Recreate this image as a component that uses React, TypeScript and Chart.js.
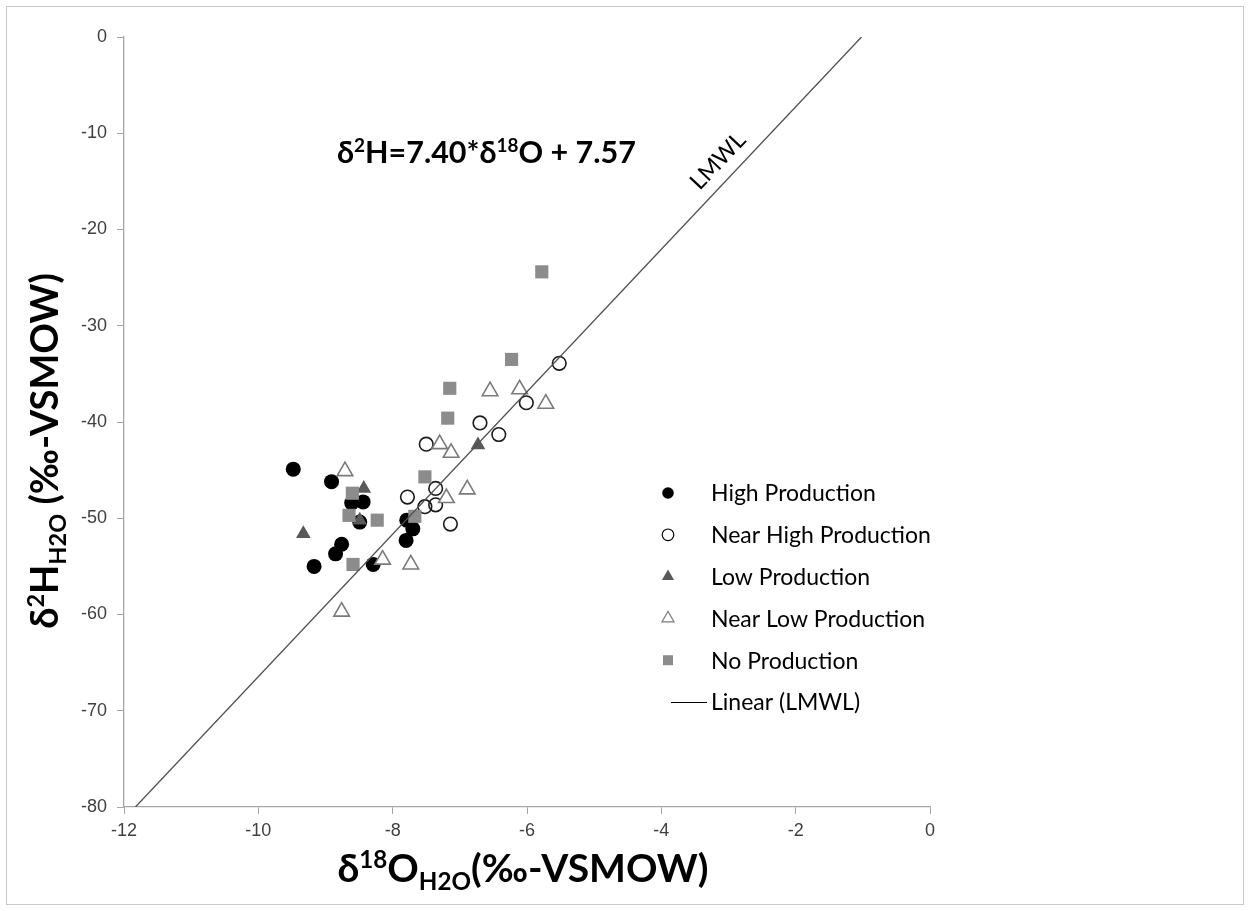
import React, { useEffect, useRef } from "react";
import { Chart, registerables } from "chart.js";

Chart.register(...registerables);

const HIGH_X = [-9.48, -8.91, -8.61, -8.44, -8.49, -8.76, -8.85, -9.17, -8.29, -7.79, -7.70, -7.80];
const HIGH_Y = [-44.9, -46.2, -48.4, -48.3, -50.4, -52.7, -53.7, -55.0, -54.8, -50.2, -51.1, -52.3];
const NEAR_HIGH_X = [-5.52, -6.01, -6.70, -6.42, -7.50, -7.36, -7.78, -7.52, -7.36, -7.14];
const NEAR_HIGH_Y = [-33.9, -38.0, -40.1, -41.3, -42.3, -46.9, -47.8, -48.8, -48.6, -50.6];
const LOW_X = [-9.33, -8.43, -8.49, -6.73];
const LOW_Y = [-51.6, -46.9, -50.2, -42.4];
const NEAR_LOW_X = [-8.71, -8.76, -7.30, -7.13, -6.89, -7.20, -8.15, -7.73, -6.55, -6.11, -5.72];
const NEAR_LOW_Y = [-45.1, -59.7, -42.3, -43.2, -47.0, -47.9, -54.3, -54.8, -36.8, -36.6, -38.1];
const NO_X = [-5.78, -6.23, -7.15, -7.18, -7.52, -7.67, -8.23, -8.60, -8.65, -8.59];
const NO_Y = [-24.4, -33.5, -36.5, -39.6, -45.7, -49.8, -50.2, -47.4, -49.7, -54.8];
const LMWL_X = [-11.83, -1.02];
const LMWL_Y = [-80, 0];

const X_MIN = -12, X_MAX = 0, X_STEP = 2;
const Y_MIN = -80, Y_MAX = 0, Y_STEP = 10;

const SERIES_NAMES = ["High Production", "Near High Production", "Low Production", "Near Low Production", "No Production", "Linear (LMWL)"];
const EQUATION = [
  { t: "δ", s: "n" }, { t: "2", s: "sup" }, { t: "H=7.40*δ", s: "n" }, { t: "18", s: "sup" }, { t: "O + 7.57", s: "n" },
];
const X_TITLE = [
  { t: "δ", s: "n" }, { t: "18", s: "sup" }, { t: "O", s: "n" }, { t: "H2O", s: "sub" }, { t: "(‰-VSMOW)", s: "n" },
];
const Y_TITLE = [
  { t: "δ", s: "n" }, { t: "2", s: "sup" }, { t: "H", s: "n" }, { t: "H2O", s: "sub" }, { t: " (‰-VSMOW)", s: "n" },
];

const pts = (xs: number[], ys: number[]) => xs.map((x, i) => ({ x, y: ys[i] }));

const FONT = "Lato, 'Open Sans', sans-serif";

function richWidth(ctx: CanvasRenderingContext2D, segs: any[], size: number, weight: string) {
  let w = 0;
  for (const sg of segs) {
    const fs = sg.s === "n" ? size : size * 0.62;
    ctx.font = `${weight} ${fs}px ${FONT}`;
    w += ctx.measureText(sg.t).width;
  }
  return w;
}

function drawRich(ctx: CanvasRenderingContext2D, segs: any[], x: number, y: number, size: number, weight: string, color: string) {
  ctx.fillStyle = color;
  ctx.textBaseline = "alphabetic";
  ctx.textAlign = "left";
  let cx = x;
  for (const sg of segs) {
    const fs = sg.s === "n" ? size : size * 0.62;
    ctx.font = `${weight} ${fs}px ${FONT}`;
    const dy = sg.s === "sup" ? -size * 0.36 : sg.s === "sub" ? size * 0.2 : 0;
    ctx.fillText(sg.t, cx, y + dy);
    cx += ctx.measureText(sg.t).width;
  }
}

function marker(ctx: CanvasRenderingContext2D, kind: string, x: number, y: number, r: number) {
  ctx.save();
  ctx.beginPath();
  if (kind === "circle" || kind === "ocircle") {
    ctx.arc(x, y, r, 0, Math.PI * 2);
  } else if (kind === "tri" || kind === "otri") {
    ctx.moveTo(x, y - r);
    ctx.lineTo(x + r * 0.866, y + r * 0.5);
    ctx.lineTo(x - r * 0.866, y + r * 0.5);
    ctx.closePath();
  } else if (kind === "rect") {
    ctx.rect(x - r, y - r, 2 * r, 2 * r);
  }
  if (kind === "circle") { ctx.fillStyle = "#000"; ctx.fill(); }
  if (kind === "ocircle") { ctx.fillStyle = "#fff"; ctx.fill(); ctx.strokeStyle = "#000"; ctx.lineWidth = 1.2; ctx.stroke(); }
  if (kind === "tri") { ctx.fillStyle = "#595959"; ctx.fill(); }
  if (kind === "otri") { ctx.fillStyle = "#fff"; ctx.fill(); ctx.strokeStyle = "#7f7f7f"; ctx.lineWidth = 1.2; ctx.stroke(); }
  if (kind === "rect") { ctx.fillStyle = "#8c8c8c"; ctx.fill(); }
  ctx.restore();
}

const decor = {
  id: "decor",
  afterDraw(chart: any) {
    const ctx: CanvasRenderingContext2D = chart.ctx;
    const xs = chart.scales.x, ys = chart.scales.y;
    ctx.save();
    // frame
    ctx.strokeStyle = "#c8c8c8";
    ctx.lineWidth = 1;
    ctx.strokeRect(6.5, 6.5, chart.width - 13, chart.height - 13);

    // x title
    const xSize = 39;
    const xw = richWidth(ctx, X_TITLE, xSize, "bold");
    drawRich(ctx, X_TITLE, 523 - xw / 2, 882, xSize, "bold", "#000");

    // y title
    const ySize = 38;
    const yw = richWidth(ctx, Y_TITLE, ySize, "bold");
    ctx.save();
    ctx.translate(58, 451);
    ctx.rotate(-Math.PI / 2);
    drawRich(ctx, Y_TITLE, -yw / 2, 0, ySize, "bold", "#000");
    ctx.restore();

    // equation
    drawRich(ctx, EQUATION, 337, 163, 30.5, "bold", "#000");

    // LMWL label along line
    const p1x = xs.getPixelForValue(LMWL_X[0]), p1y = ys.getPixelForValue(LMWL_Y[0]);
    const p2x = xs.getPixelForValue(LMWL_X[1]), p2y = ys.getPixelForValue(LMWL_Y[1]);
    const ang = Math.atan2(p2y - p1y, p2x - p1x);
    ctx.save();
    ctx.translate(718, 161);
    ctx.rotate(ang);
    ctx.font = `23px ${FONT}`;
    ctx.fillStyle = "#000";
    ctx.textAlign = "center";
    ctx.textBaseline = "middle";
    ctx.fillText("LMWL", 0, 0);
    ctx.restore();

    // legend
    const kinds = ["circle", "ocircle", "tri", "otri", "rect", "line"];
    const lx = 668, ltx = 711, ly0 = 493, ldy = 41.8;
    for (let i = 0; i < kinds.length; i++) {
      const y = ly0 + i * ldy;
      const k = kinds[i];
      if (k === "line") {
        ctx.strokeStyle = "#000";
        ctx.lineWidth = 1;
        ctx.beginPath();
        ctx.moveTo(671, y + 0.5);
        ctx.lineTo(707, y + 0.5);
        ctx.stroke();
      } else {
        marker(ctx, k, lx, y, k === "rect" ? 5 : k.includes("tri") ? 7 : 5.8);
      }
      ctx.fillStyle = "#000";
      ctx.font = `23px ${FONT}`;
      ctx.textAlign = "left";
      ctx.textBaseline = "middle";
      ctx.fillText(SERIES_NAMES[i], ltx, y + 1);
    }
    ctx.restore();
  },
};

export default function App() {
  const ref = useRef<HTMLCanvasElement>(null);
  useEffect(() => {
    if (!ref.current) return;
    const chart = new Chart(ref.current, {
      type: "scatter",
      data: {
        datasets: [
          { label: SERIES_NAMES[0], data: pts(HIGH_X, HIGH_Y), pointStyle: "circle", pointRadius: 7.5, backgroundColor: "#000", borderColor: "#000", borderWidth: 0, order: 5 },
          { label: SERIES_NAMES[1], data: pts(NEAR_HIGH_X, NEAR_HIGH_Y), pointStyle: "circle", pointRadius: 6.8, backgroundColor: "rgba(255,255,255,0)", borderColor: "#1a1a1a", borderWidth: 1.6, order: 4 },
          { label: SERIES_NAMES[2], data: pts(LOW_X, LOW_Y), pointStyle: "triangle", pointRadius: 8.5, backgroundColor: "#595959", borderColor: "#595959", borderWidth: 0, order: 3 },
          { label: SERIES_NAMES[3], data: pts(NEAR_LOW_X, NEAR_LOW_Y), pointStyle: "triangle", pointRadius: 9, backgroundColor: "#fff", borderColor: "#7a7a7a", borderWidth: 1.6, order: 2 },
          { label: SERIES_NAMES[4], data: pts(NO_X, NO_Y), pointStyle: "rect", pointRadius: 9.3, backgroundColor: "#8c8c8c", borderColor: "#8c8c8c", borderWidth: 0, order: 1 },
          { label: SERIES_NAMES[5], data: pts(LMWL_X, LMWL_Y), showLine: true, pointRadius: 0, borderColor: "#505050", borderWidth: 1.3, order: 0 } as any,
        ],
      },
      options: {
        responsive: false,
        animation: false,
        layout: { padding: { left: 0, right: 320, top: 37, bottom: 0 } },
        plugins: { legend: { display: false }, tooltip: { enabled: false } },
        scales: {
          x: {
            type: "linear",
            min: X_MIN, max: X_MAX,
            ticks: { stepSize: X_STEP, color: "#404040", font: { size: 18, family: "'Liberation Sans', Arial" }, padding: 6 },
            grid: { display: true, drawOnChartArea: false, drawTicks: true, tickLength: 7, color: "#a6a6a6" },
            border: { display: true, color: "#a6a6a6", width: 1.3 },
            afterFit: (s: any) => { s.height = 911 - 807; },
          },
          y: {
            type: "linear",
            min: Y_MIN, max: Y_MAX,
            ticks: { stepSize: Y_STEP, color: "#404040", font: { size: 18, family: "'Liberation Sans', Arial" }, padding: 10 },
            grid: { display: true, drawOnChartArea: false, drawTicks: true, tickLength: 7, color: "#a6a6a6" },
            border: { display: true, color: "#a6a6a6", width: 1.3 },
            afterFit: (s: any) => { s.width = 124; },
          },
        },
      },
      plugins: [decor],
    });
    return () => chart.destroy();
  }, []);
  return (
    <div style={{ width: 1250, height: 911 }}>
      <style>{`body{margin:0}`}</style>
      <canvas ref={ref} width={1250} height={911} style={{ display: "block", width: 1250, height: 911 }} />
    </div>
  );
}
